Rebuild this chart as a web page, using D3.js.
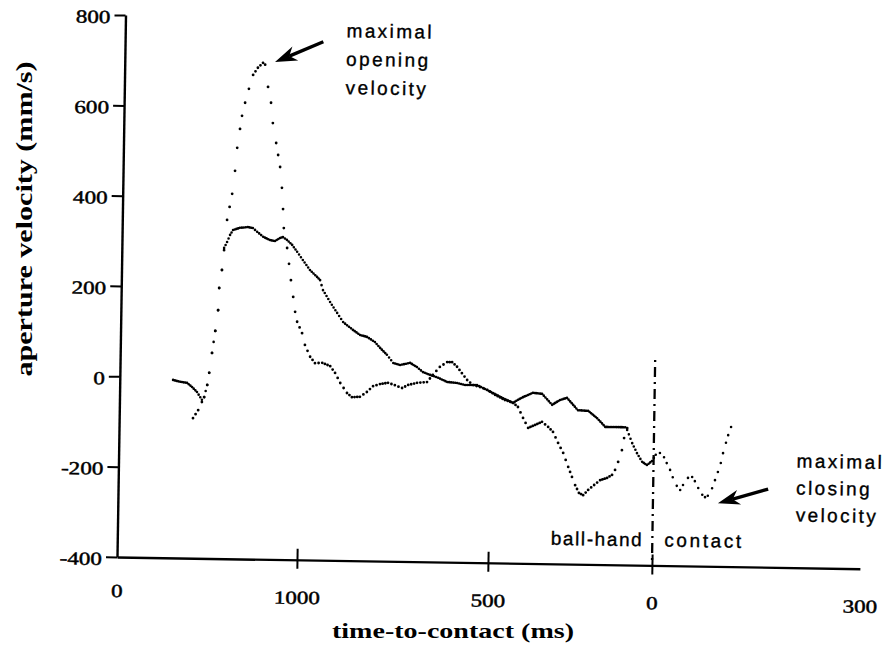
<!DOCTYPE html>
<html>
<head>
<meta charset="utf-8">
<script src="https://cdn.jsdelivr.net/npm/d3@7"></script>
<style>
body { margin: 0; background: #fff; }
svg { display: block; }
</style>
</head>
<body>
<svg id="chart" width="889" height="645"></svg>
<script>

// x axis: time-to-contact, the printed labels are kept as they are on the figure
var xTickTimes = [-1500, -1000, -500, 0, 300];
var xTickLabels = ["0", "1000", "500", "0", "300"];
var yTicks = [-400, -200, 0, 200, 400, 600, 800];

// trial drawn with sparse dots (the one with the big opening peak), [ms, mm/s]
var dottedTrial = [
  [-1295,-90],[-1281,-72],[-1271,-54],[-1265,-43],[-1257,-16],[-1252,11],[-1245,55],
  [-1237,104],[-1230,150],[-1228,199],[-1221,239],[-1216,283],[-1209,350],[-1196,408],
  [-1189,459],[-1184,510],[-1177,552],[-1172,581],[-1164,610],[-1154,641],[-1143,672],
  [-1130,688],[-1116,699],[-1110,695],[-1101,646],[-1092,611],[-1086,566],[-1076,522],
  [-1064,469],[-1058,423],[-1054,376],[-1051,334],[-1041,290],[-1035,255],[-1029,219],
  [-1022,182],[-1016,149],[-1010,127],[-996,102],[-988,76],[-974,50],[-961,36],[-942,37],
  [-921,30],[-908,15],[-894,-7],[-876,-29],[-863,-38],[-842,-37],[-824,-26],[-808,-13],
  [-790,-8],[-769,-5],[-751,-10],[-732,-16],[-716,-9],[-693,-4],[-667,-2],[-652,14],
  [-634,32],[-615,43],[-602,43],[-589,33],[-576,19],[-562,4],[-546,-7],[-528,-11],
  [-509,-17],[-486,-28],[-456,-39],[-431,-45],[-416,-54],[-400,-78],[-384,-100],[-363,-93],
  [-342,-86],[-323,-97],[-308,-108],[-292,-132],[-276,-154],[-260,-185],[-248,-207],
  [-238,-225],[-226,-242],[-213,-247],[-198,-235],[-180,-224],[-162,-213],[-141,-208],
  [-126,-201],[-117,-190],[-108,-172],[-97,-146],[-91,-119],[-82,-97],[-74,-68]
];

// trial drawn with dense dots (looks solid where it is flat)
var solidTrial = [
  [-1352,-6],[-1332,-10],[-1313,-12],[-1299,-21],[-1285,-32],[-1271,-49],[-1265,-43],
  [-1257,-16],[-1252,11],[-1245,55],[-1237,104],[-1230,150],[-1228,199],[-1221,239],
  [-1216,288],[-1208,301],[-1200,317],[-1192,328],[-1173,333],[-1151,335],[-1137,333],
  [-1125,325],[-1108,314],[-1089,307],[-1075,305],[-1061,312],[-1053,314],[-1042,308],
  [-1027,297],[-1013,282],[-997,264],[-978,242],[-959,227],[-951,220],[-943,198],
  [-924,172],[-905,148],[-889,128],[-863,111],[-844,100],[-826,96],[-805,85],[-791,72],
  [-773,57],[-756,39],[-738,35],[-712,40],[-694,31],[-678,20],[-659,14],[-638,8],
  [-614,-1],[-588,-3],[-567,-7],[-536,-7],[-520,-13],[-493,-24],[-462,-35],[-431,-45],
  [-416,-38],[-401,-32],[-371,-22],[-343,-24],[-312,-48],[-288,-37],[-267,-32],[-233,-59],
  [-202,-60],[-174,-76],[-149,-95],[-119,-95],[-88,-95],[-82,-101],[-66,-130],[-51,-152],
  [-35,-171],[-20,-178],[-5,-169],[3,-155],[9,-151],[15,-160],[19,-173],[24,-188],
  [28,-204],[34,-223],[39,-232],[43,-221],[50,-205],[56,-203],[60,-212],[65,-227],
  [71,-242],[75,-247],[79,-244],[85,-227],[89,-209],[93,-191],[97,-171],[100,-149],
  [104,-126],[107,-109],[111,-91],[115,-71]
];

// ball-hand contact marker
var contactTime = 0;
var contactLineTop = 55;

var width = 889;
var height = 645;
var originX = 117, originY = 557;
var tilt = 0.9; // the scanned figure is slightly rotated

var svg = d3.select("#chart");
svg.append("rect").attr("width", width).attr("height", height).attr("fill", "#fff");

var plot = svg.append("g")
    .attr("transform", "translate(" + originX + "," + originY + ") rotate(" + tilt + ")");

// piecewise scale, the printed ticks are not evenly spaced
var x = d3.scaleLinear().domain(xTickTimes).range([0, 180, 371, 535, 743]);
var y = d3.scaleLinear().domain([-400, 800]).range([0, -542]);

// y axis
var yAxis = plot.append("g")
    .call(d3.axisLeft(y).tickValues(yTicks).tickSize(11).tickSizeOuter(0)
        .tickFormat(function(d) { return String(d); }));
yAxis.select(".domain").attr("stroke-width", 2.4);
yAxis.selectAll(".tick line").attr("stroke-width", 2);
yAxis.selectAll(".tick text")
    .attr("x", 0)
    .attr("dy", "0.42em")
    .attr("transform", "translate(-15,0) scale(1.25,1)")
    .attr("font-family", "Liberation Serif")
    .attr("font-size", 18.5)
    .attr("fill", "#000")
    .attr("stroke", "#000")
    .attr("stroke-width", 0.45);

// x axis
var xAxis = plot.append("g")
    .call(d3.axisBottom(x).tickValues(xTickTimes).tickSizeOuter(0)
        .tickFormat(function(d, i) { return xTickLabels[i]; }));
xAxis.select(".domain").attr("stroke-width", 2.4);
xAxis.selectAll(".tick line")
    .attr("y1", -11).attr("y2", 9).attr("stroke-width", 2)
    .attr("display", function(d, i) { return (i === 0 || i === xTickTimes.length - 1) ? "none" : null; });
xAxis.selectAll(".tick text")
    .attr("y", 0)
    .attr("dy", 0)
    .attr("transform", function(d, i) { return "translate(0," + (i === 0 ? 40 : 44) + ") scale(1.25,1)"; })
    .attr("font-family", "Liberation Serif")
    .attr("font-size", 18.5)
    .attr("fill", "#000")
    .attr("stroke", "#000")
    .attr("stroke-width", 0.45);

// each trace is a row of dots, one dot per sample
var line = d3.line()
    .x(function(d) { return x(d[0]); })
    .y(function(d) { return y(d[1]); });

function drawDotted(data, sampleMs, strokeW) {
    var dash = [];
    for (var i = 1; i < data.length; i++) {
        var dx = x(data[i][0]) - x(data[i - 1][0]);
        var dy = y(data[i][1]) - y(data[i - 1][1]);
        var len = Math.hypot(dx, dy);
        if (len === 0) continue;
        var n = Math.max(1, Math.round((data[i][0] - data[i - 1][0]) / sampleMs));
        for (var k = 0; k < n; k++) dash.push(0, len / n);
    }
    plot.append("path")
        .attr("d", line(data))
        .attr("fill", "none")
        .attr("stroke", "#000")
        .attr("stroke-width", strokeW)
        .attr("stroke-linecap", "round")
        .attr("stroke-dasharray", dash.join(","));
}

drawDotted(dottedTrial, 8, 2.8);
drawDotted(solidTrial, 5, 2.6);

// contact line
plot.append("line")
    .attr("x1", x(contactTime)).attr("x2", x(contactTime))
    .attr("y1", y(contactLineTop)).attr("y2", y(-400))
    .attr("stroke", "#000")
    .attr("stroke-width", 2.3)
    .attr("stroke-dasharray", "2,5,10,5");

var noteFont = { family: "Liberation Sans", size: 19, spacing: 2.4 };

plot.append("text")
    .attr("x", x(contactTime) - 9).attr("y", y(-400) - 19)
    .attr("text-anchor", "end")
    .attr("font-family", noteFont.family).attr("font-size", noteFont.size)
    .attr("letter-spacing", 1.6)
    .attr("stroke", "#000").attr("stroke-width", 0.35)
    .text("ball-hand");
plot.append("text")
    .attr("x", x(contactTime) + 12).attr("y", y(-400) - 19)
    .attr("font-family", noteFont.family).attr("font-size", noteFont.size)
    .attr("letter-spacing", 2.6)
    .attr("stroke", "#000").attr("stroke-width", 0.35)
    .text("contact");

// arrows with notched heads
function drawArrow(tip, tail) {
    var ang = Math.atan2(tail[1] - tip[1], tail[0] - tip[0]);
    var c = Math.cos(ang), s = Math.sin(ang);
    var headLen = 22, headW = 7.5;
    var notch = [tip[0] + headLen * 0.7 * c, tip[1] + headLen * 0.7 * s];
    var b1 = [tip[0] + headLen * c - headW * s, tip[1] + headLen * s + headW * c];
    var b2 = [tip[0] + headLen * c + headW * s, tip[1] + headLen * s - headW * c];
    plot.append("line")
        .attr("x1", notch[0]).attr("y1", notch[1])
        .attr("x2", tail[0]).attr("y2", tail[1])
        .attr("stroke", "#000").attr("stroke-width", 3.4);
    plot.append("path")
        .attr("d", "M" + [tip, b1, notch, b2].join("L") + "Z")
        .attr("fill", "#000");
}

function drawNote(lines, pos, lineGap) {
    plot.append("g").selectAll("text")
        .data(lines)
        .join("text")
        .attr("x", pos[0])
        .attr("y", function(d, i) { return pos[1] + i * lineGap; })
        .attr("font-family", noteFont.family)
        .attr("font-size", noteFont.size)
        .attr("letter-spacing", noteFont.spacing)
        .attr("stroke", "#000")
        .attr("stroke-width", 0.35)
        .text(function(d) { return d; });
}

var peak = d3.greatest(dottedTrial, function(d) { return d[1]; });
var openTip = [x(peak[0]) + 12, y(peak[1]) - 1];
drawArrow(openTip, [openTip[0] + 48, openTip[1] - 21]);
drawNote(["maximal", "opening", "velocity"], [openTip[0] + 71, openTip[1] - 26], 28.5);

var closing = d3.least(solidTrial.filter(function(d) { return d[0] > contactTime; }), function(d) { return d[1]; });
var closeTip = [x(closing[0]) + 13, y(closing[1]) + 6];
drawArrow(closeTip, [closeTip[0] + 50, closeTip[1] - 15]);
drawNote(["maximal", "closing", "velocity"], [closeTip[0] + 78, closeTip[1] - 37], 27);

// axis titles
svg.append("text")
    .attr("transform", "translate(32,219) rotate(-90)")
    .attr("text-anchor", "middle")
    .attr("font-family", "Liberation Serif")
    .attr("font-weight", "bold")
    .attr("font-size", 24)
    .attr("textLength", 315)
    .attr("lengthAdjust", "spacingAndGlyphs")
    .text("aperture velocity (mm/s)");

svg.append("text")
    .attr("x", 453).attr("y", 638)
    .attr("text-anchor", "middle")
    .attr("font-family", "Liberation Serif")
    .attr("font-weight", "bold")
    .attr("font-size", 22)
    .attr("textLength", 242)
    .attr("lengthAdjust", "spacingAndGlyphs")
    .text("time-to-contact (ms)");

</script>
</body>
</html>
